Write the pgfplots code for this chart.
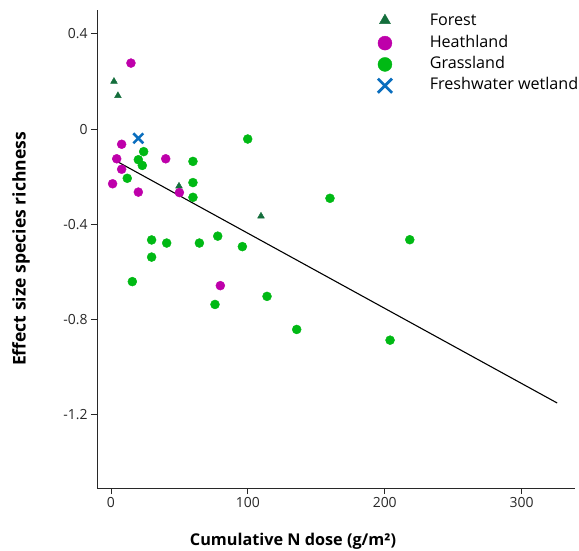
\documentclass[border=0pt]{standalone}
\usepackage{pgfplots}
\pgfplotsset{compat=1.18}
\usepackage{fontspec}
\setmainfont{Open Sans}
\definecolor{forestc}{RGB}{20,110,60}
\definecolor{heathc}{RGB}{190,0,170}
\definecolor{grassc}{RGB}{0,185,20}
\definecolor{wetc}{RGB}{10,110,190}
\definecolor{axc}{RGB}{40,40,40}
\begin{document}
\begin{tikzpicture}
\useasboundingbox (0,0) rectangle (579bp,551bp);
\begin{axis}[
  at={(97bp,63bp)}, anchor=south west, scale only axis,
  width=478bp, height=478bp,
  xmin=-10.2, xmax=339, ymin=-1.508, ymax=0.5,
  axis x line*=bottom, axis y line*=left,
  axis line style={axc, line width=0.9bp},
  xtick={0,100,200,300}, xticklabels={0,100,200,300},
  ytick={-1.2,-0.8,-0.4,0,0.4}, yticklabels={-1.2,-0.8,-0.4,0,0.4},
  tick align=outside, major tick length=6bp,
  tick style={axc, line width=0.9bp},
  ticklabel style={font=\fontsize{14}{16}\selectfont, text=axc},
  xlabel={Cumulative N dose (g/m²)},
  ylabel={Effect size species richness},
  label style={font=\bfseries\fontsize{16.3}{19}\selectfont},
  xlabel style={at={(axis description cs:0.41,0)}, anchor=center, yshift=-53bp},
  ylabel style={at={(axis description cs:0,0.5)}, anchor=center, yshift=76bp,
    font=\bfseries\fontsize{17.6}{20}\selectfont},
  legend style={at={(axis description cs:0.5815,0.9945)}, anchor=north west,
    draw=none, fill=none, font=\fontsize{16.2}{19}\selectfont,
    row sep=3.3bp, inner sep=0pt,
    nodes={inner sep=1bp, text depth=4bp, text height=12bp}},
  legend cell align=left,
]
\addplot[only marks, mark=triangle*, mark size=3.9bp, color=forestc,
  legend image code/.code={\draw[mark=triangle*, mark size=6.3bp, color=forestc] plot coordinates {(0.3cm,0.05cm)};\path (0,0) (1.8cm,0);}]
  coordinates {(2.2,0.20) (5.1,0.14) (49.7,-0.24) (109.6,-0.366)};
\addlegendentry{Forest}
\addplot[only marks, mark=*, mark size=4.5bp, color=heathc,
  legend image code/.code={\draw[mark=*, mark size=7bp, color=heathc] plot coordinates {(0.3cm,0cm)};\path (0,0) (1.8cm,0);}]
  coordinates {(14.6,0.277) (7.8,-0.064) (4.2,-0.125) (7.8,-0.169) (1.2,-0.23)
   (20,-0.265) (40,-0.125) (50,-0.267) (79.9,-0.658)};
\addlegendentry{Heathland}
\addplot[only marks, mark=*, mark size=4.5bp, color=grassc,
  legend image code/.code={\draw[mark=*, mark size=7bp, color=grassc] plot coordinates {(0.3cm,0cm)};\path (0,0) (1.8cm,0);}]
  coordinates {(23.9,-0.095) (20,-0.129) (22.9,-0.153) (11.9,-0.207)
   (59.9,-0.136) (59.9,-0.225) (59.9,-0.287) (99.9,-0.042)
   (29.7,-0.466) (40.7,-0.479) (64.6,-0.479) (78,-0.45) (96,-0.494)
   (29.7,-0.538) (15.6,-0.641) (114,-0.703) (76,-0.737)
   (160,-0.291) (218.3,-0.465) (135.7,-0.842) (203.9,-0.887)};
\addlegendentry{Grassland}
\addplot[only marks, mark=x, mark size=7bp, color=wetc, line width=2.6bp,
  legend image code/.code={\draw[mark=x, mark size=10bp, color=wetc, line width=2.8bp] plot coordinates {(0.3cm,0cm)};\path (0,0) (1.8cm,0);}]
  coordinates {(20,-0.039)};
\addlegendentry{Freshwater wetland}
\addplot[black, line width=1.1bp, forget plot] coordinates {(1.2,-0.126) (326,-1.151)};
\end{axis}
\end{tikzpicture}
\end{document}
